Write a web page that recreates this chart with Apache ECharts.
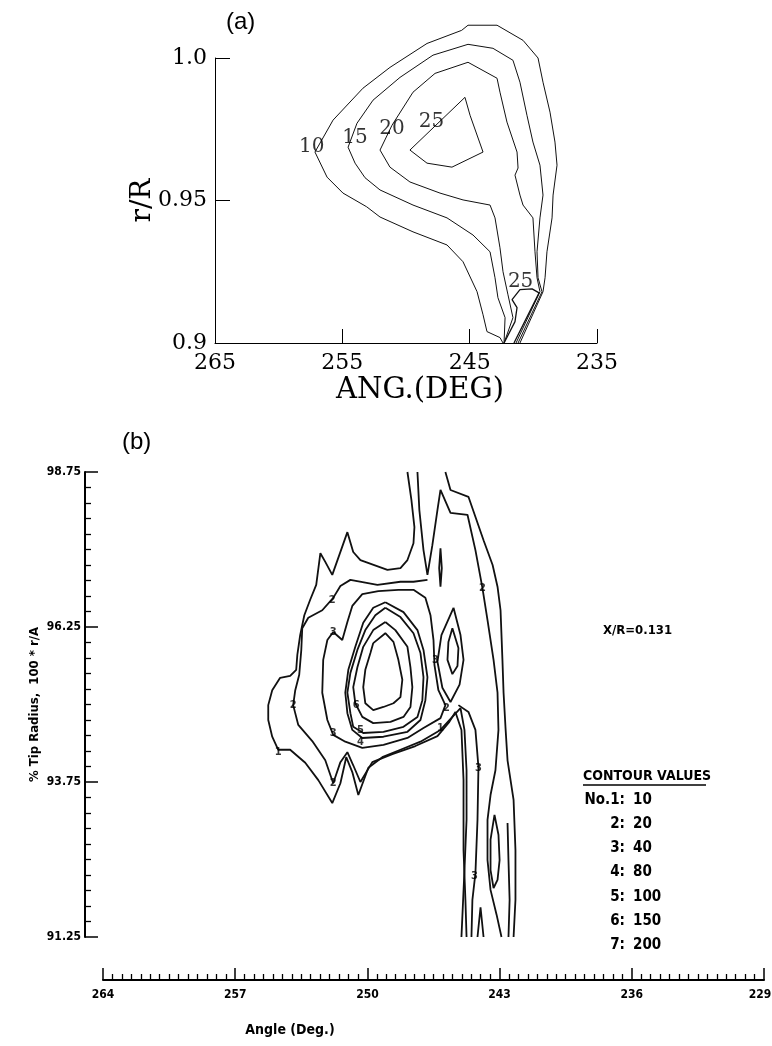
<!DOCTYPE html>
<html>
<head>
<meta charset="utf-8">
<script src="https://cdn.jsdelivr.net/npm/echarts/dist/echarts.min.js"></script>
<style>
html, body { margin: 0; padding: 0; background: #fff; }
#main { width: 772px; height: 1046px; }
</style>
</head>
<body>
<div id="main"></div>
<script>
// ---- panel (a): r/R vs angle, contour lines 10..25 ----
var aC10 = [[242.38,0.9000],[242.62,0.9019],[243.64,0.9040],[243.95,0.9099],[244.42,0.9180],[245.52,0.9285],[246.78,0.9344],[249.45,0.9390],[252.04,0.9442],[253.09,0.9478],[254.95,0.9526],[256.20,0.9582],[257.15,0.9670],[255.73,0.9782],[253.38,0.9894],[251.26,0.9967],[248.35,1.0051],[245.63,1.0097],[245.13,1.0115],[242.85,1.0115],[240.81,1.0062],[239.63,1.0000],[239.24,0.9915],[238.69,0.9810],[238.30,0.9705],[238.14,0.9624],[238.45,0.9519],[238.53,0.9439],[238.93,0.9320],[239.08,0.9229],[239.24,0.9180],[241.05,0.9000]];
var aC15 = [[242.30,0.9000],[242.22,0.9089],[242.78,0.9159],[243.01,0.9229],[243.40,0.9320],[244.74,0.9379],[246.78,0.9439],[249.45,0.9484],[252.04,0.9537],[253.22,0.9580],[254.00,0.9631],[254.55,0.9687],[253.85,0.9771],[252.59,0.9852],[250.47,0.9932],[247.88,1.0010],[245.13,1.0048],[243.17,1.0034],[241.60,0.9992],[241.05,0.9915],[240.50,0.9799],[240.03,0.9705],[239.48,0.9624],[239.24,0.9519],[239.48,0.9439],[239.71,0.9320],[239.63,0.9229],[239.32,0.9180],[241.20,0.9000]];
var aC20 = [[242.30,0.9000],[241.60,0.9089],[241.99,0.9169],[242.38,0.9250],[242.62,0.9334],[243.01,0.9439],[243.40,0.9484],[245.52,0.9502],[247.33,0.9526],[249.69,0.9565],[251.26,0.9617],[252.04,0.9677],[251.10,0.9764],[249.45,0.9880],[247.72,0.9946],[245.13,0.9985],[242.85,0.9929],[242.62,0.9880],[242.07,0.9775],[241.28,0.9670],[241.20,0.9614],[241.44,0.9589],[241.05,0.9519],[240.81,0.9484],[240.03,0.9439],[239.87,0.9320],[239.71,0.9229],[239.48,0.9180],[241.36,0.9000]];
var aC25 = [[249.69,0.9677],[245.37,0.9862],[244.97,0.9799],[243.95,0.9670],[246.39,0.9617],[248.35,0.9631],[249.69,0.9677]];
var aC25low = [[242.30,0.9000],[241.44,0.9075],[241.28,0.9124],[241.67,0.9152],[241.05,0.9187],[240.10,0.9190],[239.55,0.9176],[241.52,0.9000]];
var aLabels = [[257.4,0.969,'10'],[254.0,0.972,'15'],[251.1,0.975,'20'],[248.0,0.9775,'25'],[241.0,0.9215,'25']];

// ---- panel (b): % tip radius vs angle, contour levels 1..7 ----
var bL1Outer = [[247.88,98.75],[247.67,98.30],[247.51,97.86],[247.56,97.60],[247.88,97.33],[248.25,97.20],[248.94,97.17],[250.37,97.33],[250.75,97.46],[251.06,97.78],[251.49,97.41],[251.86,97.09],[252.23,97.30],[252.49,97.44],[252.71,96.93],[253.03,96.69],[253.34,96.44],[253.56,96.12],[253.71,95.80],[253.77,95.56],[254.09,95.46],[254.62,95.43],[255.04,95.23],[255.25,94.99],[255.25,94.75],[255.04,94.48],[254.72,94.27],[254.09,94.27],[253.29,94.06],[252.60,93.78],[251.86,93.41],[251.43,93.73],[251.12,94.15],[250.80,93.91],[250.48,93.54],[249.95,93.98],[249.21,94.15],[248.25,94.27],[247.19,94.40],[246.13,94.59],[245.50,94.80],[245.07,94.94],[244.86,94.59],[244.75,93.94],[244.75,93.14],[244.86,92.33],[245.02,91.25]];
var bL1Right = [[245.87,98.75],[245.60,98.46],[244.65,98.35],[243.85,97.65],[243.37,97.25],[243.11,96.90],[242.95,96.52],[242.85,95.72],[242.79,95.19],[242.69,94.64],[242.58,94.10],[242.26,93.46],[242.16,92.65],[242.16,91.85],[242.26,91.25]];
var bL2V = [[247.35,98.75],[247.25,98.14],[247.03,97.49],[246.82,97.09],[246.56,97.57],[246.29,98.14],[246.13,98.46],[245.60,98.09],[244.70,98.06],[244.28,97.49],[243.91,96.88],[243.64,96.36],[243.32,95.72],[243.11,95.19],[243.06,94.59],[243.22,93.94],[243.48,93.54],[243.64,93.14],[243.64,92.49],[243.48,92.01],[243.16,91.61],[242.90,91.25]];
var bL2Loop = [[246.82,97.01],[247.56,96.98],[248.25,96.98],[249.47,96.93],[250.90,97.01],[251.43,96.91],[251.81,96.72],[252.39,96.52],[253.13,96.40],[253.45,96.23],[253.50,95.88],[253.61,95.48],[253.82,95.23],[253.93,94.99],[253.66,94.67],[252.92,94.41],[252.23,94.10],[251.81,93.73],[251.43,94.07],[251.06,94.23],[250.75,94.02],[250.37,93.75],[249.74,94.07],[248.68,94.20],[247.46,94.33],[246.29,94.49],[245.66,94.72],[245.34,94.88],[245.02,94.59],[244.91,93.78],[244.91,92.65],[244.81,91.85],[244.75,91.25]];
var bL3Loop = [[251.81,96.17],[251.33,96.04],[251.06,96.33],[250.80,96.59],[250.27,96.78],[249.42,96.83],[248.36,96.85],[247.56,96.85],[246.93,96.72],[246.66,96.44],[246.50,96.04],[246.45,95.64],[246.24,95.23],[245.87,94.99],[246.13,94.78],[247.03,94.62],[247.88,94.46],[249.15,94.35],[250.27,94.30],[251.17,94.40],[251.81,94.51],[252.12,94.75],[252.39,95.19],[252.34,95.72],[252.12,96.04],[251.81,96.17]];
var bL3Lens = [[245.44,96.56],[245.07,96.12],[244.91,95.72],[245.12,95.32],[245.60,95.04],[246.03,95.27],[246.29,95.69],[246.08,96.12],[245.44,96.56]];
var bL3Tail = [[245.18,94.99],[244.65,94.88],[244.28,94.59],[244.12,93.99],[244.17,93.14],[244.28,92.28],[244.44,91.85],[244.49,91.25]];
var bL4Loop = [[249.05,96.65],[248.09,96.49],[247.35,96.20],[247.03,95.88],[246.82,95.44],[246.93,95.07],[247.19,94.75],[247.88,94.56],[249.15,94.48],[250.27,94.46],[250.80,94.59],[251.06,94.86],[251.17,95.19],[251.01,95.56],[250.64,95.93],[250.22,96.32],[249.69,96.56],[249.05,96.65]];
var bL4Diamond = [[245.50,96.23],[245.18,95.91],[245.23,95.62],[245.50,95.49],[245.76,95.72],[245.71,96.01],[245.50,96.23]];
var bL4Sliver = [[246.13,97.52],[246.06,97.20],[246.13,96.90],[246.20,97.20],[246.13,97.52]];
var bL4TailV = [[244.17,91.25],[244.01,91.73],[243.85,91.25]];
var bL4Ellipse = [[243.27,93.22],[243.06,92.90],[243.00,92.49],[243.11,92.17],[243.32,92.04],[243.48,92.33],[243.48,92.82],[243.27,93.22]];
var bL5Sliver = [[242.58,93.09],[242.53,92.49],[242.47,91.85],[242.53,91.25]];
var bL5Loop = [[249.05,96.56],[248.25,96.41],[247.56,96.15],[247.19,95.83],[247.03,95.44],[247.09,95.07],[247.35,94.80],[248.09,94.64],[249.15,94.56],[250.22,94.54],[250.75,94.64],[250.90,94.86],[251.06,95.19],[250.90,95.51],[250.53,95.88],[250.11,96.20],[249.58,96.44],[249.05,96.56]];
var bL6Loop = [[249.05,96.33],[248.52,96.20],[247.88,95.93],[247.72,95.60],[247.62,95.28],[247.72,94.96],[248.09,94.80],[248.78,94.72],[249.69,94.70],[250.27,94.80],[250.64,95.02],[250.75,95.28],[250.53,95.60],[250.22,95.93],[249.69,96.20],[249.05,96.33]];
var bL7Loop = [[249.69,95.99],[249.05,96.15],[248.62,96.01],[248.36,95.72],[248.15,95.40],[248.25,95.12],[248.62,95.02],[249.15,94.96],[249.69,94.91],[250.11,95.02],[250.22,95.28],[250.11,95.56],[249.84,95.83],[249.69,95.99]];
var bLabels = [[254.72,94.23,'1'],[246.13,94.62,'1'],[251.86,96.69,'2'],[253.93,94.99,'2'],[251.81,93.73,'2'],[245.81,94.94,'2'],[243.91,96.88,'2'],[251.81,96.17,'3'],[251.81,94.54,'3'],[246.40,95.72,'3'],[244.12,93.98,'3'],[244.33,92.23,'3'],[250.37,94.40,'4'],[250.37,94.59,'5'],[250.59,94.99,'6']];

// axis ranges of panel (b)
var bAngMin = 229, bAngMax = 264;

// legend of panel (b)
var contourNo = ['No.1:', '2:', '3:', '4:', '5:', '6:', '7:'];
var contourVal = [10, 20, 40, 80, 100, 150, 200];

var serif = "'DejaVu Serif', 'Liberation Serif', serif";
var plotFont = "'Liberation Sans Narrow', 'DejaVu Sans Condensed', sans-serif";

function contour(data, idx, width, clip) {  // one polyline on panel idx
    return {
        type: 'line', xAxisIndex: idx, yAxisIndex: idx,
        data: data, symbol: 'none', showSymbol: false, clip: clip, silent: true,
        lineStyle: { color: '#111', width: width }
    };
}

function labels(list, idx, font, size, weight) {  // contour numbers on the lines
    return {
        type: 'scatter', xAxisIndex: idx, yAxisIndex: idx, clip: false, silent: true,
        symbolSize: 1, itemStyle: { color: 'rgba(0,0,0,0)' },
        data: list.map(function (l) { return { value: [l[0], l[1]], name: l[2] }; }),
        label: { show: true, position: 'inside', formatter: '{b}', color: '#000',
                 fontFamily: font, fontSize: size, fontWeight: weight },
        z: 5
    };
}

var series = [];
[aC10, aC15, aC20, aC25].forEach(function (d) { series.push(contour(d, 0, 1, false)); });
series.push(contour(aC25low, 0, 1.3, false));
series.push(labels(aLabels, 0, serif, 20, 'normal'));

[bL1Outer, bL1Right, bL2V, bL2Loop, bL3Loop, bL3Lens, bL3Tail, bL4Loop, bL4Diamond, bL4Sliver,
 bL4TailV, bL4Ellipse, bL5Sliver, bL5Loop, bL6Loop, bL7Loop].forEach(function (d) {
    series.push(contour(d, 1, 1.8, true));
});
series.push(labels(bLabels, 1, plotFont, 11, 'bold'));

// free text (legend, notes)
var graphic = [
    { type: 'text', x: 603, y: 631, style: { text: 'X/R=0.131', fill: '#000', font: 'bold 13px ' + plotFont, verticalAlign: 'middle', textVerticalAlign: 'middle' } },
    { type: 'text', x: 583, y: 776, style: { text: 'CONTOUR VALUES', fill: '#000', font: 'bold 14px ' + plotFont, verticalAlign: 'middle', textVerticalAlign: 'middle' } },
    { type: 'line', shape: { x1: 583, y1: 785, x2: 706, y2: 785 }, style: { stroke: '#000', lineWidth: 1.5 } },
    { type: 'text', x: 290, y: 1030, style: { text: 'Angle (Deg.)', fill: '#000', font: 'bold 14px ' + plotFont, align: 'center', textAlign: 'center', verticalAlign: 'middle', textVerticalAlign: 'middle' } }
];
for (var i = 0; i < contourNo.length; i++) {
    var yy = 800 + i * 24.2;
    graphic.push({ type: 'text', x: 625, y: yy, style: { text: contourNo[i], fill: '#000', font: 'bold 15px ' + plotFont, align: 'right', textAlign: 'right', verticalAlign: 'middle', textVerticalAlign: 'middle' } });
    graphic.push({ type: 'text', x: 633, y: yy, style: { text: String(contourVal[i]), fill: '#000', font: 'bold 15px ' + plotFont, verticalAlign: 'middle', textVerticalAlign: 'middle' } });
}

var black = { color: '#000' };
var option = {
    animation: false,
    backgroundColor: '#fff',
    title: [
        { text: '(a)', left: 221, top: 5, textStyle: { fontFamily: 'Liberation Sans, Arial, sans-serif', fontSize: 24, fontWeight: 'normal', color: '#000' } },
        { text: '(b)', left: 117, top: 425, textStyle: { fontFamily: 'Liberation Sans, Arial, sans-serif', fontSize: 24, fontWeight: 'normal', color: '#000' } }
    ],
    grid: [
        { left: 215, top: 58, width: 382, height: 285, outerBoundsMode: 'none' },
        { left: 103, top: 472, width: 661, height: 465, outerBoundsMode: 'none' }
    ],
    xAxis: [
        {
            gridIndex: 0, type: 'value', min: 235, max: 265, interval: 10, inverse: true,
            axisLine: { show: true, onZero: false, lineStyle: { color: '#000', width: 1 } },
            axisTick: { show: true, inside: true, length: 14, lineStyle: black },
            axisLabel: { color: '#000', fontFamily: serif, fontSize: 22, margin: 9, showMinLabel: true, showMaxLabel: true },
            splitLine: { show: false },
            name: 'ANG.(DEG)', nameLocation: 'middle', nameGap: 33, nameMoveOverlap: false,
            nameTextStyle: { fontFamily: serif, fontSize: 29, color: '#000', verticalAlign: 'top', padding: [0, 0, 0, 28] }
        },
        {
            gridIndex: 1, type: 'value', min: bAngMin, max: bAngMax, interval: 7, inverse: true, offset: 43,
            axisLine: { show: true, onZero: false, lineStyle: { color: '#000', width: 2 } },
            axisTick: { show: true, inside: true, length: 12, lineStyle: { color: '#000', width: 1.5 } },
            minorTick: { show: true, splitNumber: 14, length: 6, lineStyle: { color: '#000', width: 1.3 } },
            axisLabel: {
                color: '#000', fontFamily: plotFont, fontWeight: 'bold', fontSize: 12, margin: 9, showMinLabel: true, showMaxLabel: true,
                formatter: function (v) { return v === bAngMin ? '{e|' + v + '}' : String(v); },  // keep the right end label inside
                rich: { e: { fontFamily: plotFont, fontWeight: 'bold', fontSize: 12, color: '#000', padding: [0, 8, 0, 0] } }
            },
            splitLine: { show: false }, minorSplitLine: { show: false }
        }
    ],
    yAxis: [
        {
            gridIndex: 0, type: 'value', min: 0.9, max: 1.0, interval: 0.05,
            axisLine: { show: true, onZero: false, lineStyle: { color: '#000', width: 1 } },
            axisTick: { show: true, inside: true, length: 15, lineStyle: black },
            axisLabel: {
                color: '#000', fontFamily: serif, fontSize: 22, margin: 8, showMinLabel: true, showMaxLabel: true,
                formatter: function (v) {
                    var s = String(+v.toFixed(2));
                    if (s.indexOf('.') < 0) s += '.0';
                    return s;
                }
            },
            splitLine: { show: false },
            name: 'r/R', nameLocation: 'middle', nameGap: 58, nameRotate: 90, nameMoveOverlap: false,
            nameTextStyle: { fontFamily: serif, fontSize: 28, color: '#000' }
        },
        {
            gridIndex: 1, type: 'value', min: 91.25, max: 98.75, interval: 2.5, offset: 18,
            axisLine: { show: true, onZero: false, lineStyle: { color: '#000', width: 2 } },
            axisTick: { show: true, inside: true, length: 13, lineStyle: { color: '#000', width: 1.5 } },
            minorTick: { show: true, splitNumber: 10, length: 6, lineStyle: { color: '#000', width: 1.3 } },
            axisLabel: {
                color: '#000', fontFamily: plotFont, fontWeight: 'bold', fontSize: 12, margin: 4, showMinLabel: true, showMaxLabel: true,
                formatter: function (v) { return v.toFixed(2); }
            },
            splitLine: { show: false }, minorSplitLine: { show: false },
            name: '% Tip Radius,  100 * r/A', nameLocation: 'middle', nameGap: 44, nameRotate: 90, nameMoveOverlap: false,
            nameTextStyle: { fontFamily: plotFont, fontWeight: 'bold', fontSize: 13, color: '#000' }
        }
    ],
    series: series,
    graphic: graphic
};

var myChart = echarts.init(document.getElementById('main'));
myChart.setOption(option);
</script>
</body>
</html>
